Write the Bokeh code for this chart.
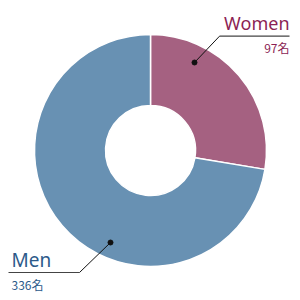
import math
from bokeh.plotting import figure
from bokeh.models import Range1d, ColumnDataSource
from bokeh.core.properties import value
from bokeh.embed import file_html
from bokeh.resources import INLINE

# data
categories = ["Women", "Men"]
counts = [97, 336]
unit = "名"
# slice shares (percent)
shares = [27.6, 72.4]
colors = ["#a56181", "#6891b3"]
label_colors = ["#8c1f55", "#2c5a8a"]

W = H = 300
p = figure(width=W, height=H, output_backend="svg", toolbar_location=None,
           x_range=Range1d(0, W), y_range=Range1d(0, H), min_border=0)
p.axis.visible = False
p.grid.visible = False
p.outline_line_color = None
p.background_fill_color = "white"

cx, cy = 150, 150
total = sum(shares)
starts, ends = [], []
a = math.pi / 2
for s in shares:
    starts.append(a)
    a = a - 2 * math.pi * s / total
    ends.append(a)

src = ColumnDataSource(dict(start=starts, end=ends, color=colors))
p.annular_wedge(x=cx, y=cy, inner_radius=45, outer_radius=116,
                start_angle="start", end_angle="end", direction="clock",
                fill_color="color", line_color="white", line_width=1.5, source=src)

def Y(y):
    return H - y

name_font = value("Noto Sans")
num_font = value("Noto Sans CJK JP")
# Women label (upper right)
p.line([219, 289], [Y(35.7), Y(35.7)], line_color="#444444", line_width=1.2)
p.line([194, 219], [Y(62), Y(35.7)], line_color="#111111", line_width=1)
p.scatter([194], [Y(62)], size=5, color="#111111")
p.text([289], [Y(22.5)], text=[categories[0]], text_font=name_font, text_font_size="18px",
       text_color=label_colors[0], text_align="right", text_baseline="middle")
p.text([289], [Y(47)], text=[f"{counts[0]}{unit}"], text_font=num_font, text_font_size="12px",
       text_color=label_colors[0], text_align="right", text_baseline="middle")

# Men label (lower left)
p.line([8, 79], [Y(272), Y(272)], line_color="#444444", line_width=1.2)
p.line([79, 110], [Y(272), Y(242)], line_color="#111111", line_width=1)
p.scatter([110], [Y(242)], size=5, color="#111111")
p.text([11], [Y(259)], text=[categories[1]], text_font=name_font, text_font_size="19px",
       text_color=label_colors[1], text_align="left", text_baseline="middle")
p.text([11], [Y(283.5)], text=[f"{counts[1]}{unit}"], text_font=num_font, text_font_size="12px",
       text_color=label_colors[1], text_align="left", text_baseline="middle")

open("out.html", "w").write(file_html(p, INLINE))
